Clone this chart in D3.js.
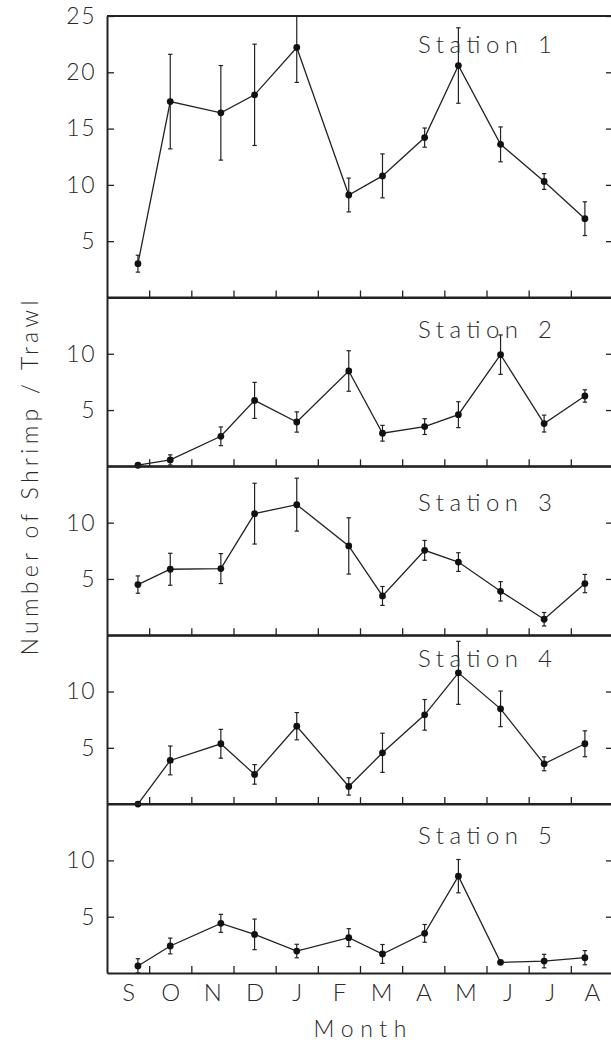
<!DOCTYPE html>
<html>
<head>
<meta charset="utf-8">
<script src="https://cdn.jsdelivr.net/npm/d3@7"></script>
<style>
  body { margin: 0; background: #fff; }
  svg text { font-family: "Lato", "DejaVu Sans", sans-serif; font-weight: 300; fill: #2a2a2a; }
</style>
</head>
<body>
<div id="chart"></div>
<script>
// DATA
const months = ["S", "O", "N", "D", "J", "F", "M", "A", "M", "J", "J", "A"];
// approx day of the month each trawl was made
const sampleDay = [22, 15, 21, 15, 15, 22, 16, 16, 10, 10, 11, 10];

const stationNames = ["1", "2", "3", "4", "5"];

const st1Mean = [3.0, 17.4, 16.4, 18.0, 22.2, 9.1, 10.8, 14.2, 20.6, 13.6, 10.3, 7.0];
const st1Err  = [0.75, 4.2, 4.2, 4.5, 3.1, 1.5, 1.95, 0.85, 3.35, 1.55, 0.7, 1.5];
const st2Mean = [0.1, 0.57, 2.67, 5.86, 3.94, 8.47, 2.94, 3.53, 4.59, 9.92, 3.8, 6.25];
const st2Err  = [0, 0.45, 0.83, 1.6, 0.9, 1.8, 0.7, 0.7, 1.15, 1.75, 0.75, 0.55];
const st3Mean = [4.5, 5.86, 5.92, 10.8, 11.6, 7.93, 3.49, 7.54, 6.5, 3.9, 1.42, 4.59];
const st3Err  = [0.77, 1.42, 1.33, 2.7, 2.35, 2.5, 0.84, 0.88, 0.83, 0.86, 0.6, 0.81];
const st4Mean = [0, 3.88, 5.36, 2.64, 6.92, 1.57, 4.56, 7.93, 11.66, 8.46, 3.58, 5.36];
const st4Err  = [0, 1.28, 1.28, 0.87, 1.21, 0.77, 1.74, 1.36, 2.8, 1.58, 0.62, 1.15];
const st5Mean = [0.62, 2.4, 4.41, 3.43, 1.95, 3.14, 1.69, 3.52, 8.6, 0.95, 1.06, 1.36];
const st5Err  = [0.65, 0.7, 0.8, 1.36, 0.6, 0.8, 0.84, 0.79, 1.48, 0, 0.6, 0.63];

const yMax = [25, 15, 15, 15, 15];
const yTicks = [[5, 10, 15, 20, 25], [5, 10], [5, 10], [5, 10], [5, 10]];

const means = [st1Mean, st2Mean, st3Mean, st4Mean, st5Mean];
const errs = [st1Err, st2Err, st3Err, st4Err, st5Err];

// LAYOUT
const W = 611, H = 1045;
const plotLeft = 107, plotRight = 613, plotTop = 16, plotBottom = 973;
const unitPx = (plotBottom - plotTop) / d3.sum(yMax);
const labelAt = [21.7, 11.4, 11.0, 12.2, 11.5]; // station label baseline, in y units

const svg = d3.select("#chart").append("svg")
    .attr("width", W)
    .attr("height", H);

const x = d3.scaleLinear().domain([0, 12]).range([plotLeft, plotRight]);

let panelTop = plotTop;
means.forEach((vals, p) => {
    const pBottom = panelTop + yMax[p] * unitPx;
    const y = d3.scaleLinear().domain([0, yMax[p]]).range([pBottom, panelTop]);
    const g = svg.append("g");

    // frame line on top of the panel
    g.append("line")
        .attr("x1", plotLeft).attr("x2", plotRight)
        .attr("y1", panelTop).attr("y2", panelTop)
        .attr("stroke", "#222").attr("stroke-width", 2);

    // left axis with inside ticks
    const yAxis = g.append("g")
        .attr("transform", `translate(${plotLeft},0)`)
        .call(d3.axisLeft(y).tickValues(yTicks[p]).tickSize(-7).tickSizeOuter(0).tickPadding(11));
    yAxis.select(".domain").attr("stroke", "#222").attr("stroke-width", 2);
    yAxis.selectAll(".tick line").attr("stroke", "#222").attr("stroke-width", 1.3);
    yAxis.selectAll("text").attr("font-size", 23).attr("letter-spacing", 1.5);

    // right ticks
    const yRight = g.append("g")
        .attr("transform", `translate(${plotRight},0)`)
        .call(d3.axisRight(y).tickValues(yTicks[p]).tickSize(-7).tickSizeOuter(0).tickFormat(""));
    yRight.select(".domain").attr("stroke", "#222").attr("stroke-width", 2);
    yRight.selectAll(".tick line").attr("stroke", "#222").attr("stroke-width", 1.3);

    // bottom ticks (month boundaries)
    const xAxis = g.append("g")
        .attr("transform", `translate(0,${pBottom})`)
        .call(d3.axisBottom(x).tickValues(d3.range(1, 12)).tickSize(-7).tickSizeOuter(0).tickFormat(""));
    xAxis.select(".domain").attr("stroke", "#222").attr("stroke-width", 2);
    xAxis.selectAll(".tick line").attr("stroke", "#222").attr("stroke-width", 1.3);

    // series
    const pts = vals.map((v, i) => ({
        px: x(i + sampleDay[i] / 30),
        v: v,
        lo: Math.max(0, v - errs[p][i]),
        hi: Math.min(yMax[p], v + errs[p][i]),
        e: errs[p][i]
    }));

    const bars = g.selectAll(".err").data(pts.filter(d => d.e > 0)).enter().append("g").attr("class", "err");
    bars.append("line")
        .attr("x1", d => d.px).attr("x2", d => d.px)
        .attr("y1", d => y(d.lo)).attr("y2", d => y(d.hi))
        .attr("stroke", "#222").attr("stroke-width", 1.2);
    bars.append("line")
        .attr("x1", d => d.px - 2.2).attr("x2", d => d.px + 2.2)
        .attr("y1", d => y(d.lo)).attr("y2", d => y(d.lo))
        .attr("stroke", "#222").attr("stroke-width", 1.2);
    bars.filter(d => d.v + d.e <= yMax[p]).append("line")
        .attr("x1", d => d.px - 2.2).attr("x2", d => d.px + 2.2)
        .attr("y1", d => y(d.hi)).attr("y2", d => y(d.hi))
        .attr("stroke", "#222").attr("stroke-width", 1.2);

    g.append("path")
        .datum(pts)
        .attr("fill", "none")
        .attr("stroke", "#222")
        .attr("stroke-width", 1.3)
        .attr("d", d3.line().x(d => d.px).y(d => y(d.v)));

    g.selectAll(".dot").data(pts).enter().append("circle")
        .attr("cx", d => d.px).attr("cy", d => y(d.v))
        .attr("r", 3.4).attr("fill", "#111");

    // station label
    const lab = g.append("text")
        .attr("y", y(labelAt[p]))
        .attr("font-size", 24);
    lab.append("tspan").attr("x", 418).attr("textLength", 100).attr("lengthAdjust", "spacing").text("Station");
    lab.append("tspan").attr("x", 545).attr("text-anchor", "middle").text(stationNames[p]);

    panelTop = pBottom;
});

// MONTH LABELS
const monthAxis = svg.append("g")
    .attr("transform", `translate(0,${plotBottom})`)
    .call(d3.axisBottom(x).tickValues(d3.range(12).map(i => i + 0.5)).tickSize(0).tickPadding(11)
        .tickFormat((d, i) => months[i]));
monthAxis.select(".domain").remove();
monthAxis.selectAll("text").attr("font-size", 24).attr("fill", "#2a2a2a");

svg.append("text")
    .attr("x", 360).attr("y", 1037)
    .attr("text-anchor", "middle")
    .attr("font-size", 23)
    .attr("textLength", 93).attr("lengthAdjust", "spacing")
    .text("Month");

svg.append("text")
    .attr("transform", "translate(38,478) rotate(-90)")
    .attr("text-anchor", "middle")
    .attr("font-size", 23)
    .attr("textLength", 355).attr("lengthAdjust", "spacing")
    .text("Number of Shrimp / Trawl");
</script>
</body>
</html>
